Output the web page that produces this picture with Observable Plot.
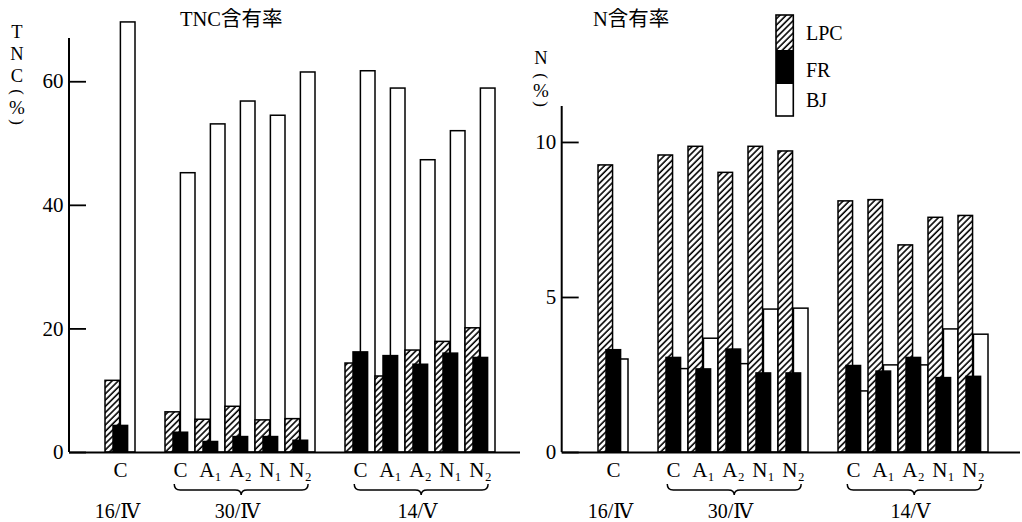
<!DOCTYPE html>
<html>
<head>
<meta charset="utf-8">
<script src="https://cdn.jsdelivr.net/npm/d3@7"></script>
<script src="https://cdn.jsdelivr.net/npm/@observablehq/plot@0.6"></script>
<style>
  body { margin: 0; background: #fff; }
  #fig { position: relative; width: 1022px; height: 522px; overflow: hidden; background: #fff; }
  #left { position: absolute; left: 0; top: 0; }
  #right { position: absolute; left: 520px; top: 0; }
</style>
</head>
<body>
<div id="fig"><div id="left"></div><div id="right"></div></div>
<script>
// Sampling dates and treatments
const dates = ["16/Ⅳ", "30/Ⅳ", "14/Ⅴ"];
const treatments = [["C"], ["C", "A1", "A2", "N1", "N2"], ["C", "A1", "A2", "N1", "N2"]];
const fractions = ["LPC", "FR", "BJ"];

// TNC content (%) by fraction, in date/treatment order
const tncLPC = [11.6, 6.5, 5.3, 7.4, 5.2, 5.4, 14.4, 12.3, 16.5, 17.9, 20.1];
const tncFR  = [4.3, 3.2, 1.7, 2.5, 2.5, 1.9, 16.2, 15.6, 14.2, 16.0, 15.3];
const tncBJ  = [69.6, 45.2, 53.1, 56.8, 54.5, 61.5, 61.7, 58.9, 47.3, 52.0, 58.9];

// N content (%) by fraction
const nLPC = [9.26, 9.58, 9.86, 9.02, 9.86, 9.71, 8.10, 8.14, 6.68, 7.57, 7.63];
const nFR  = [3.30, 3.05, 2.68, 3.32, 2.55, 2.55, 2.79, 2.61, 3.05, 2.40, 2.44];
const nBJ  = [3.00, 2.69, 3.67, 2.85, 4.61, 4.64, 1.97, 2.81, 2.81, 3.97, 3.80];

const tncTicks = [0, 20, 40, 60];
const nTicks = [0, 5, 10];

const FONT = "'Liberation Serif','DejaVu Serif','Noto Sans CJK JP',serif";

// One band per treatment, with an empty band before each date group
const slotKeys = [];
const groupKeys = [];
dates.forEach((d, i) => {
  slotKeys.push(`gap${i}`);
  const keys = treatments[i].map(t => `${d}|${t}`);
  slotKeys.push(...keys);
  groupKeys.push(keys);
});
const barKeys = groupKeys.flat();
const subscript = t => t.replace("1", "₁").replace("2", "₂");
const rowsOf = values => barKeys.map((key, i) => ({key, value: values[i]}));

function hatchDefs(id) {
  return () => {
    const defs = d3.create("svg:defs");
    const s = 4.4;
    const p = defs.append("pattern")
      .attr("id", id)
      .attr("patternUnits", "userSpaceOnUse")
      .attr("width", s).attr("height", s)
      .attr("patternTransform", "rotate(45)");
    p.append("rect").attr("width", s).attr("height", s).attr("fill", "white");
    p.append("line").attr("x1", 1).attr("x2", 1).attr("y1", 0).attr("y2", s)
      .attr("stroke", "black").attr("stroke-width", 1.6);
    return defs.node();
  };
}

// Vertical axis line along the left edge of the frame
function axisLine() {
  return (index, scales, values, dimensions) => {
    const {marginLeft, marginTop, marginBottom, height} = dimensions;
    return d3.create("svg:line")
      .attr("x1", marginLeft).attr("x2", marginLeft)
      .attr("y1", marginTop).attr("y2", height - marginBottom)
      .attr("stroke", "black").attr("stroke-width", 2).node();
  };
}

function braces(bw) {
  return (index, scales, values, dimensions) => {
    const g = d3.create("svg:g").attr("fill", "none").attr("stroke", "black").attr("stroke-width", 1.5);
    const base = dimensions.height - dimensions.marginBottom;
    const y0 = base + 32, ym = base + 38, y1 = base + 43, r = 6;
    groupKeys.filter(keys => keys.length > 1).forEach(keys => {
      const x0 = scales.x(keys[0]) + 0.3 * bw;
      const x1 = scales.x(keys[keys.length - 1]) + 0.75 * bw;
      const mid = (x0 + x1) / 2;
      g.append("path").attr("d",
        `M${x0},${y0} Q${x0},${ym} ${x0 + r},${ym} L${mid - r},${ym} Q${mid},${ym} ${mid},${y1}` +
        ` Q${mid},${ym} ${mid + r},${ym} L${x1 - r},${ym} Q${x1},${ym} ${x1},${y0}`);
    });
    return g.node();
  };
}

// Panel title and stacked vertical axis title
function headings({title, titleX, letters, lettersY, axisX, parenY}) {
  return () => {
    const g = d3.create("svg:g").attr("font-family", FONT).attr("fill", "black");
    g.append("text").attr("x", titleX).attr("y", 19).attr("font-size", 20.5)
      .attr("text-anchor", "start").attr("dominant-baseline", "central").text(title);
    letters.forEach((ch, i) => {
      g.append("text").attr("x", axisX).attr("y", lettersY[i]).attr("font-size", 18.5)
        .attr("text-anchor", "middle").attr("dominant-baseline", "central").text(ch);
    });
    const [pTop, pMid, pBot] = parenY;
    g.append("text").attr("transform", `translate(${axisX},${pTop}) rotate(90)`).attr("font-size", 17)
      .attr("text-anchor", "middle").attr("dominant-baseline", "central").text("(");
    g.append("text").attr("x", axisX).attr("y", pMid).attr("font-size", 19)
      .attr("text-anchor", "middle").attr("dominant-baseline", "central").text("%");
    g.append("text").attr("transform", `translate(${axisX},${pBot}) rotate(90)`).attr("font-size", 17)
      .attr("text-anchor", "middle").attr("dominant-baseline", "central").text(")");
    return g.node();
  };
}

function legend(hatchId, x) {
  return () => {
    const g = d3.create("svg:g");
    const w = 17.3, edges = [15, 50, 84, 116];
    const fills = [`url(#${hatchId})`, "black", "white"];
    const labelY = [33, 70, 100];
    fractions.forEach((f, i) => {
      g.append("rect").attr("x", x).attr("y", edges[i]).attr("width", w)
        .attr("height", edges[i + 1] - edges[i]).attr("fill", fills[i]);
      g.append("text").attr("x", x + 30).attr("y", labelY[i]).attr("font-family", FONT)
        .attr("font-size", 20).attr("text-anchor", "start").attr("dominant-baseline", "central").text(f);
    });
    g.append("rect").attr("x", x).attr("y", edges[0]).attr("width", w)
      .attr("height", edges[3] - edges[0]).attr("fill", "none").attr("stroke", "black").attr("stroke-width", 1.6);
    return g.node();
  };
}

function panel({lpc, fr, bj, ticks, yMax, width, marginLeft, marginRight, marginTop, slotEnd, hatchId, extras}) {
  const bw = (slotEnd - marginLeft) / slotKeys.length;
  const dateRows = dates.map((d, i) => ({date: d, key: groupKeys[i][Math.floor(groupKeys[i].length / 2)]}));
  return Plot.plot({
    width, height: 522,
    marginLeft, marginRight, marginTop, marginBottom: 70,
    style: {background: "white", color: "black", fontFamily: FONT},
    x: {type: "band", domain: slotKeys, range: [marginLeft, slotEnd], padding: 0, axis: null},
    y: {domain: [0, yMax]},
    marks: [
      hatchDefs(hatchId),
      Plot.barY(rowsOf(bj), {x: "key", y: "value", fill: "white", stroke: "black", strokeWidth: 1.5,
        insetLeft: 0.5 * bw, insetRight: 0}),
      Plot.barY(rowsOf(lpc), {x: "key", y: "value", fill: `url(#${hatchId})`, stroke: "black", strokeWidth: 1.5,
        insetLeft: 0, insetRight: 0.5 * bw}),
      Plot.barY(rowsOf(fr), {x: "key", y: "value", fill: "black", stroke: "black", strokeWidth: 1.5,
        insetLeft: 0.26 * bw, insetRight: 0.24 * bw}),
      Plot.ruleY([0], {stroke: "black", strokeWidth: 2}),
      axisLine(),
      Plot.axisY({ticks, tickSize: -17, tickPadding: 23, strokeWidth: 1.8,
        fontSize: 21, label: null, tickFormat: d => String(d)}),
      Plot.text(barKeys, {x: d => d, text: d => subscript(d.split("|")[1]), frameAnchor: "bottom",
        dy: 18, lineAnchor: "middle", fontSize: 21}),
      braces(bw),
      Plot.text(dateRows, {x: "key", text: "date", frameAnchor: "bottom", dy: 59, dx: -3,
        lineAnchor: "middle", fontSize: 20}),
      ...extras
    ]
  });
}

document.getElementById("left").append(panel({
  lpc: tncLPC, fr: tncFR, bj: tncBJ, ticks: tncTicks, yMax: 67,
  width: 520, marginLeft: 69, marginRight: 0, marginTop: 38, slotEnd: 500,
  hatchId: "hatch-tnc",
  extras: [headings({title: "TNC含有率", titleX: 180, letters: ["T", "N", "C"], lettersY: [32, 54, 76],
    axisX: 17, parenY: [92, 107, 122]})]
}));

document.getElementById("right").append(panel({
  lpc: nLPC, fr: nFR, bj: nBJ, ticks: nTicks, yMax: 11.16,
  width: 502, marginLeft: 41.7, marginRight: 2, marginTop: 106, slotEnd: 474,
  hatchId: "hatch-n",
  extras: [
    headings({title: "N含有率", titleX: 73, letters: ["N"], lettersY: [58], axisX: 21, parenY: [76, 90, 104]}),
    legend("hatch-n", 256)
  ]
}));
</script>
</body>
</html>
